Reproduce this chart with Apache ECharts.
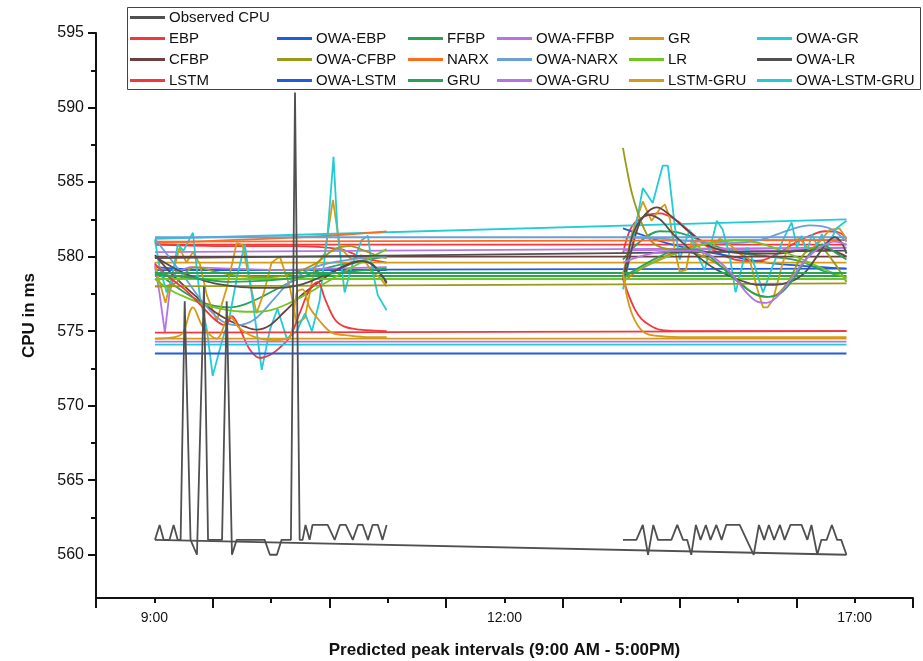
<!DOCTYPE html>
<html>
<head>
<meta charset="utf-8">
<title>Observed vs predicted CPU</title>
<script src="https://cdn.jsdelivr.net/npm/echarts@6/dist/echarts.min.js"></script>
<style>
    html, body { margin: 0; padding: 0; background: #fff; }
    #cpuChart { width: 923px; height: 661px; }
</style>
</head>
<body>
<div id="cpuChart"></div>
<script>
    // x is a sample index: 9:00 sits at 10, 12:00 at 70, 17:00 at 130
    const xTickValues = [10, 70, 130];
    const xTickLabels = ['9:00', '12:00', '17:00'];
    const yTickValues = [560, 565, 570, 575, 580, 585, 590, 595];
    const yMinorValues = [562.5, 567.5, 572.5, 577.5, 582.5, 587.5, 592.5];

    // observed CPU
    const observedBase = [[10.1, 561], [128.6, 560]];
    const observedLeft = [[10.1, 561], [10.9, 562], [11.6, 561], [12.6, 561], [13.3, 562], [14.0, 561], [14.5, 561], [15.2, 577], [16.2, 561], [17.3, 560], [18.5, 578], [19.2, 561], [20.4, 561], [21.6, 561], [22.4, 577], [23.3, 560], [24.1, 561], [26.4, 561], [28.9, 561], [29.8, 560], [31.0, 560], [31.8, 561], [33.4, 561], [34.1, 591], [34.9, 561], [35.4, 561], [35.9, 562], [36.6, 561], [37.1, 562], [39.7, 562], [40.9, 561], [41.8, 562], [42.8, 562], [44.0, 561], [44.9, 562], [45.7, 562], [46.6, 561], [47.4, 562], [48.3, 562], [49.1, 561], [49.8, 562]];
    const observedRight = [[90.3, 561], [92.6, 561], [93.7, 562], [94.6, 560], [95.5, 562], [96.3, 561], [98.6, 561], [99.6, 562], [100.6, 561], [101.3, 561], [102.0, 560], [102.8, 562], [103.6, 561], [104.5, 562], [105.3, 561], [106.3, 562], [107.2, 561], [108.0, 562], [110.3, 562], [111.5, 561], [112.7, 560], [113.6, 562], [114.5, 561], [115.3, 562], [116.2, 561], [117.2, 562], [118.0, 561], [119.0, 562], [120.9, 562], [121.9, 561], [122.6, 562], [123.6, 560], [124.3, 561], [125.2, 561], [126.1, 562], [127.0, 561], [127.7, 561], [128.6, 560]];

    // EBP
    const ebpFlat = [[10.1, 580.8], [128.6, 580.8]];
    const ebpLeft = [[10.1, 580.8], [22.9, 580.7], [33.2, 580.7], [41.8, 580.5], [46.0, 579.9], [49.8, 579.6]];
    const ebpRight = [[90.3, 580.2], [91.8, 582.0], [94.0, 582.7], [96.6, 582.9], [99.2, 582.5], [101.7, 581.7], [104.3, 580.8], [106.9, 580.2], [109.5, 579.8], [112.0, 579.7], [114.6, 579.8], [117.2, 580.3], [119.7, 580.9], [122.3, 581.4], [124.9, 581.7], [127.4, 581.6], [128.6, 581.2]];

    // OWA-EBP
    const owaEbpFlat = [[10.1, 579.1], [128.6, 579.2]];
    const owaEbpLeft = [[10.1, 579.3], [20.3, 579.1], [49.8, 579.1]];
    const owaEbpRight = [[90.3, 581.9], [94.0, 581.4], [97.8, 580.9], [103.5, 580.4], [109.1, 580.0], [114.9, 579.6], [120.6, 579.4], [128.6, 579.2]];

    // FFBP
    const ffbpFlat = [[10.1, 578.7], [128.6, 578.7]];
    const ffbpLeft = [[10.1, 579.0], [12.6, 578.3], [15.2, 577.6], [17.8, 577.0], [20.3, 576.7], [22.9, 576.6], [25.5, 576.8], [28.9, 577.4], [32.3, 578.1], [35.8, 578.7], [39.2, 579.2], [43.5, 579.6], [49.8, 580.0]];
    const ffbpRight = [[90.3, 579.8], [93.2, 581.0], [96.6, 581.7], [100.0, 581.6], [103.5, 581.1], [106.9, 580.6], [111.2, 580.2], [115.5, 580.0], [120.6, 579.7], [124.9, 579.0], [128.6, 578.6]];

    // OWA-FFBP
    const owaFfbpFlat = [[10.1, 580.3], [128.6, 580.6]];
    const owaFfbpLeft = [[10.1, 579.4], [10.9, 577.5], [11.8, 574.9], [12.6, 577.6], [13.7, 579.0], [16.1, 579.3], [22.9, 579.2], [31.5, 579.1], [40.0, 579.2], [49.8, 579.3]];
    const owaFfbpRight = [[90.3, 580.4], [103.5, 580.5], [117.2, 580.4], [128.6, 580.6]];

    // GR
    const grFlat = [[10.1, 579.6], [128.6, 579.6]];
    const grLeft = [[10.1, 579.6], [10.9, 578.3], [11.9, 576.9], [13.1, 578.8], [14.3, 580.6], [15.5, 579.6], [16.6, 580.3], [17.8, 579.5], [19.0, 577.4], [20.7, 575.7], [22.4, 577.9], [24.1, 580.9], [25.1, 580.8], [26.3, 578.4], [27.5, 576.2], [28.7, 577.5], [30.1, 579.6], [31.5, 580.0], [33.2, 578.0], [34.4, 575.5], [35.8, 575.9], [37.5, 579.3], [39.2, 580.2], [40.6, 583.8], [41.8, 580.6], [43.8, 579.8], [45.5, 580.1], [47.2, 579.0], [48.6, 578.6], [49.8, 578.0]];
    const grRight = [[90.3, 578.8], [91.8, 581.5], [93.7, 583.7], [95.2, 582.4], [96.6, 583.2], [97.5, 583.5], [98.3, 582.6], [99.2, 580.4], [100.0, 579.0], [101.1, 579.1], [102.1, 581.1], [103.1, 580.8], [104.3, 580.0], [105.5, 580.6], [106.9, 581.2], [108.6, 580.8], [110.3, 580.2], [112.0, 579.8], [113.2, 578.0], [114.3, 576.6], [115.1, 576.6], [116.0, 577.1], [117.7, 579.6], [118.9, 581.0], [120.6, 581.2], [122.3, 580.4], [124.0, 581.0], [125.7, 581.8], [127.4, 581.9], [128.6, 581.2]];

    // OWA-GR
    const owaGrFlat = [[10.1, 581.2], [128.6, 582.5]];
    const owaGrLeft = [[10.1, 581.1], [10.9, 579.3], [12.1, 577.6], [13.0, 578.5], [14.0, 580.8], [15.0, 580.4], [16.6, 581.6], [17.8, 577.3], [19.0, 575.1], [20.0, 572.0], [21.5, 574.2], [22.9, 576.0], [24.3, 578.9], [25.5, 580.8], [26.9, 576.9], [28.4, 572.4], [29.8, 575.1], [31.1, 576.5], [32.7, 574.5], [34.4, 575.0], [35.8, 576.2], [37.0, 575.0], [38.3, 577.0], [39.7, 581.6], [40.7, 586.7], [41.4, 581.6], [42.6, 577.6], [43.8, 579.3], [45.5, 581.1], [46.6, 581.4], [47.4, 579.0], [48.3, 577.4], [49.8, 576.4]];
    const owaGrRight = [[90.3, 577.8], [91.8, 580.5], [93.7, 584.6], [95.4, 583.6], [97.1, 586.1], [98.0, 586.1], [99.2, 582.0], [100.0, 579.8], [101.7, 581.8], [102.9, 580.2], [104.3, 579.1], [106.4, 582.4], [107.4, 581.8], [108.6, 580.0], [109.6, 577.6], [111.5, 580.6], [112.5, 579.8], [114.3, 577.6], [116.0, 579.4], [117.7, 581.1], [119.2, 582.3], [120.1, 580.6], [120.9, 581.4], [121.8, 580.3], [122.7, 581.5], [123.5, 580.8], [124.4, 581.5], [125.2, 580.6], [126.9, 581.9], [128.6, 582.4]];

    // CFBP
    const cfbpFlat = [[10.1, 580.0], [128.6, 580.0]];
    const cfbpLeft = [[10.1, 580.1], [12.6, 579.0], [15.2, 578.0], [17.8, 577.1], [20.3, 576.3], [22.9, 575.7], [25.5, 575.3], [27.5, 575.1], [29.8, 575.4], [32.3, 576.3], [34.9, 577.3], [37.5, 578.1], [40.0, 578.8], [42.6, 579.4], [45.2, 579.7], [47.3, 579.5], [48.6, 578.9], [49.8, 578.2]];
    const cfbpRight = [[90.6, 578.6], [91.8, 580.5], [93.5, 582.5], [96.1, 583.3], [98.3, 582.8], [101.2, 581.8], [103.5, 581.1], [105.7, 580.6], [108.6, 580.3], [112.5, 580.2], [116.3, 580.2], [120.6, 580.4], [124.9, 580.5], [128.6, 580.0]];

    // OWA-CFBP
    const owaCfbpFlat = [[10.1, 578.0], [128.6, 578.2]];
    const owaCfbpLeft = [[10.1, 578.0], [13.5, 578.2], [16.9, 579.3], [20.3, 579.0], [24.6, 578.7], [28.9, 578.6], [33.2, 578.8], [37.5, 579.5], [40.9, 580.5], [43.5, 580.7], [46.0, 580.4], [48.6, 580.0], [49.8, 579.9]];
    const owaCfbpRight = [[90.3, 587.3], [91.0, 585.8], [91.8, 584.3], [92.8, 583.0], [94.0, 581.8], [95.2, 581.0], [96.9, 580.6], [100.0, 580.4], [103.5, 580.1], [106.9, 579.4], [110.0, 578.4], [112.4, 577.6], [114.6, 577.3], [116.8, 577.5], [118.9, 578.5], [120.6, 579.8], [122.3, 580.5], [124.0, 580.6], [126.1, 579.8], [128.6, 578.3]];

    // NARX
    const narxFlat = [[10.1, 581.0], [128.6, 581.1]];
    const narxLeft = [[10.1, 580.9], [22.9, 581.1], [34.9, 581.3], [43.5, 581.5], [49.8, 581.7]];
    const narxRight = [[90.3, 578.3], [92.3, 578.9], [94.9, 579.5], [97.5, 580.0], [100.5, 580.5], [103.5, 580.8], [106.4, 581.0], [112.0, 581.1], [120.6, 581.1], [128.6, 581.1]];

    // OWA-NARX
    const owaNarxFlat = [[10.1, 581.3], [128.6, 581.3]];
    const owaNarxLeft = [[10.1, 581.2], [15.2, 578.6], [18.6, 576.8], [21.5, 575.7], [24.1, 575.4], [27.2, 575.8], [30.6, 577.2], [33.2, 578.3], [37.5, 579.3], [43.5, 579.8], [49.8, 580.0]];
    const owaNarxRight = [[90.3, 581.3], [96.6, 581.2], [103.5, 581.0], [108.6, 580.9], [113.7, 581.1], [118.9, 581.8], [122.3, 582.1], [125.7, 581.9], [128.6, 581.0]];

    // LR
    const lrFlat = [[10.1, 578.5], [128.6, 578.5]];
    const lrLeft = [[10.1, 578.5], [12.6, 577.8], [15.2, 577.3], [17.8, 576.9], [20.3, 576.6], [22.9, 576.4], [26.3, 576.3], [29.8, 576.4], [33.2, 576.9], [36.6, 577.6], [40.0, 578.4], [43.5, 579.2], [46.9, 579.9], [49.8, 580.5]];
    const lrRight = [[90.3, 578.6], [94.9, 579.5], [100.0, 580.3], [105.2, 580.9], [109.5, 581.1], [113.7, 580.9], [118.0, 580.3], [122.3, 579.6], [125.7, 579.0], [128.6, 578.6]];

    // OWA-LR
    const owaLrFlat = [[10.1, 579.9], [128.6, 580.4]];
    const owaLrLeft = [[10.1, 580.0], [13.5, 579.2], [16.9, 578.6], [20.3, 578.2], [23.8, 578.0], [27.5, 577.9], [31.5, 577.9], [34.9, 578.1], [38.3, 578.6], [41.8, 579.2], [44.3, 579.6], [46.0, 579.7], [47.8, 579.3], [49.8, 578.3]];
    const owaLrRight = [[90.3, 578.4], [91.1, 580.0], [92.3, 581.8], [94.5, 582.8], [96.6, 582.5], [98.7, 581.6], [100.9, 580.8], [103.5, 579.9], [106.0, 579.2], [108.6, 578.7], [111.2, 578.3], [113.7, 578.1], [116.3, 578.1], [118.9, 578.3], [121.4, 578.9], [123.7, 580.1], [125.4, 581.0], [126.6, 581.3], [127.8, 580.9], [128.6, 580.2]];

    // LSTM
    const lstmFlat = [[10.1, 574.9], [128.6, 575.0]];
    const lstmLeft = [[10.1, 579.5], [12.6, 578.6], [15.2, 577.8], [17.8, 576.8], [20.3, 575.8], [22.1, 575.4], [23.3, 576.0], [24.6, 575.2], [26.3, 573.8], [28.1, 573.2], [29.8, 573.4], [31.5, 573.9], [33.2, 574.6], [34.9, 576.2], [36.6, 577.8], [38.0, 578.3], [39.2, 577.2], [40.9, 575.8], [42.6, 575.3], [45.2, 575.1], [49.8, 575.0]];
    const lstmRight = [[90.3, 578.6], [91.1, 577.6], [92.3, 576.5], [93.5, 575.8], [94.9, 575.4], [96.6, 575.1], [100.0, 575.0], [106.9, 575.0], [128.6, 575.0]];

    // OWA-LSTM
    const owaLstmFlat = [[10.1, 573.5], [128.6, 573.5]];

    // GRU
    const gruFlat = [[10.1, 578.9], [128.6, 578.9]];
    const gruLeft = [[10.1, 578.8], [16.1, 578.6], [22.9, 578.3], [29.8, 578.4], [36.6, 578.7], [43.5, 579.0], [49.8, 579.2]];
    const gruRight = [[90.3, 578.6], [93.2, 579.3], [96.6, 580.0], [100.0, 580.5], [103.5, 580.4], [106.9, 579.4], [110.3, 578.2], [112.9, 577.5], [115.1, 577.3], [117.2, 577.5], [119.7, 578.6], [122.3, 580.2], [124.4, 580.8], [126.6, 580.3], [128.6, 579.8]];

    // OWA-GRU
    const owaGruFlat = [[10.1, 574.3], [128.6, 574.3]];
    const owaGruRight = [[90.3, 579.6], [93.2, 580.0], [96.6, 580.3], [101.7, 580.4], [105.2, 580.1], [108.6, 579.0], [111.2, 577.7], [113.2, 577.0], [114.9, 576.9], [116.7, 577.3], [118.9, 578.4], [121.4, 579.7], [124.0, 580.6], [126.6, 581.0], [128.6, 580.8]];

    // LSTM-GRU
    const lstmGruFlat = [[10.1, 574.5], [128.6, 574.5]];
    const lstmGruLeft = [[10.1, 574.5], [13.5, 574.6], [14.9, 574.9], [16.6, 576.6], [18.3, 575.3], [20.7, 574.5], [22.9, 576.0], [24.6, 575.2], [27.2, 574.6], [30.6, 574.4], [33.2, 574.6], [34.4, 577.6], [35.4, 577.8], [36.6, 576.6], [38.3, 575.7], [40.4, 574.9], [43.5, 574.7], [46.9, 574.6], [49.8, 574.6]];
    const lstmGruRight = [[90.3, 579.0], [91.0, 577.3], [91.8, 576.2], [92.8, 575.4], [94.0, 574.9], [95.7, 574.7], [100.0, 574.6], [128.6, 574.6]];

    // OWA-LSTM-GRU
    const owaLstmGruFlat = [[10.1, 574.1], [128.6, 574.1]];

    const RED = '#f2383c', BLUE = '#1f5ddf', GREEN = '#27a356', LILAC = '#b574e6',
        GOLD = '#d39b17', CYAN = '#22ccd6', BROWN = '#6f3e3e', OLIVE = '#9a9a19',
        ORANGE = '#ff6b1c', SKY = '#6a9fd8', LIME = '#74c424', GREY = '#505050';

    // name, colour, smooth, segments
    const models = [
        ['EBP', RED, true, [ebpFlat, ebpLeft, ebpRight]],
        ['OWA-EBP', BLUE, true, [owaEbpFlat, owaEbpLeft, owaEbpRight]],
        ['FFBP', GREEN, true, [ffbpFlat, ffbpLeft, ffbpRight]],
        ['OWA-FFBP', LILAC, false, [owaFfbpFlat, owaFfbpLeft, owaFfbpRight]],
        ['GR', GOLD, false, [grFlat, grLeft, grRight]],
        ['OWA-GR', CYAN, false, [owaGrFlat, owaGrLeft, owaGrRight]],
        ['CFBP', BROWN, true, [cfbpFlat, cfbpLeft, cfbpRight]],
        ['OWA-CFBP', OLIVE, true, [owaCfbpFlat, owaCfbpLeft, owaCfbpRight]],
        ['NARX', ORANGE, true, [narxFlat, narxLeft, narxRight]],
        ['OWA-NARX', SKY, true, [owaNarxFlat, owaNarxLeft, owaNarxRight]],
        ['LR', LIME, true, [lrFlat, lrLeft, lrRight]],
        ['OWA-LR', GREY, true, [owaLrFlat, owaLrLeft, owaLrRight]],
        ['LSTM', RED, true, [lstmFlat, lstmLeft, lstmRight]],
        ['OWA-LSTM', BLUE, true, [owaLstmFlat]],
        ['GRU', GREEN, true, [gruFlat, gruLeft, gruRight]],
        ['OWA-GRU', LILAC, true, [owaGruFlat, owaGruRight]],
        ['LSTM-GRU', GOLD, true, [lstmGruFlat, lstmGruLeft, lstmGruRight]],
        ['OWA-LSTM-GRU', CYAN, true, [owaLstmGruFlat]]
    ];

    const FONT = '"Liberation Sans", Arial, sans-serif';

    function lineSeries(name, color, smooth, data, z) {
        return {
            name: name,
            type: 'line',
            data: data,
            smooth: smooth ? 0.35 : false,
            showSymbol: false,
            symbol: 'none',
            z: z,
            lineStyle: {color: color, width: 1.8},
            itemStyle: {color: color},
            emphasis: {disabled: true}
        };
    }

    const series = [];
    models.forEach(m => {
        m[3].forEach(seg => series.push(lineSeries(m[0], m[1], m[2], seg, 2)));
    });
    [observedBase, observedLeft, observedRight].forEach(seg => {
        series.push(lineSeries('Observed CPU', GREY, false, seg, 3));
    });

    function legendColumn(left, top, names) {
        return {
            left: left,
            top: top,
            orient: 'vertical',
            padding: 0,
            itemGap: 6,
            icon: 'rect',
            itemWidth: 35,
            itemHeight: 3,
            selectedMode: false,
            data: names,
            textStyle: {fontFamily: FONT, fontSize: 15, lineHeight: 14, color: '#111', padding: [0, 0, 0, -1]}
        };
    }

    const chart = echarts.init(document.getElementById('cpuChart'));
    chart.setOption({
        animation: false,
        backgroundColor: '#fff',
        grid: {left: 96, right: 10, top: 33, bottom: 63, outerBoundsMode: 'none'},
        graphic: [{
            type: 'rect',
            left: 127,
            top: 7,
            z: 0,
            shape: {width: 793, height: 82},
            style: {fill: '#fff', stroke: '#444', lineWidth: 1}
        }],
        legend: [
            legendColumn(130, 10, ['Observed CPU']),
            legendColumn(130, 31, ['EBP', 'CFBP', 'LSTM']),
            legendColumn(277, 31, ['OWA-EBP', 'OWA-CFBP', 'OWA-LSTM']),
            legendColumn(408, 31, ['FFBP', 'NARX', 'GRU']),
            legendColumn(497, 31, ['OWA-FFBP', 'OWA-NARX', 'OWA-GRU']),
            legendColumn(629, 31, ['GR', 'LR', 'LSTM-GRU']),
            legendColumn(757, 31, ['OWA-GR', 'OWA-LR', 'OWA-LSTM-GRU'])
        ],
        xAxis: {
            type: 'value',
            min: 0,
            max: 140,
            interval: 20,
            name: 'Predicted peak intervals (9:00 AM - 5:00PM)',
            nameLocation: 'middle',
            nameGap: 44,
            nameTextStyle: {fontFamily: FONT, fontSize: 17, fontWeight: 'bold', color: '#111'},
            axisLine: {lineStyle: {color: '#111', width: 2}},
            axisTick: {length: 10, lineStyle: {color: '#111', width: 2}},
            minorTick: {show: true, splitNumber: 2, length: 5, lineStyle: {color: '#111', width: 2}},
            splitLine: {show: false},
            axisLabel: {
                customValues: xTickValues,
                margin: 13,
                fontFamily: FONT,
                fontSize: 14,
                color: '#111',
                formatter: v => xTickLabels[xTickValues.indexOf(v)] || ''
            }
        },
        yAxis: [{
            type: 'value',
            min: 557.1,
            max: 595,
            name: 'CPU in ms',
            nameLocation: 'middle',
            nameGap: 58,
            nameTextStyle: {fontFamily: FONT, fontSize: 17, fontWeight: 'bold', color: '#111'},
            axisLine: {show: true, lineStyle: {color: '#111', width: 2}},
            axisTick: {show: true, customValues: yTickValues, length: 8, lineStyle: {color: '#111', width: 2}},
            splitLine: {show: false},
            axisLabel: {customValues: yTickValues, margin: 12, fontFamily: FONT, fontSize: 16, color: '#111'}
        }, {
            type: 'value',
            min: 557.1,
            max: 595,
            position: 'left',
            offset: 0,
            axisLine: {show: false},
            axisTick: {show: true, customValues: yMinorValues, length: 5, lineStyle: {color: '#111', width: 2}},
            axisLabel: {show: false},
            splitLine: {show: false}
        }],
        series: series
    });
</script>
</body>
</html>
